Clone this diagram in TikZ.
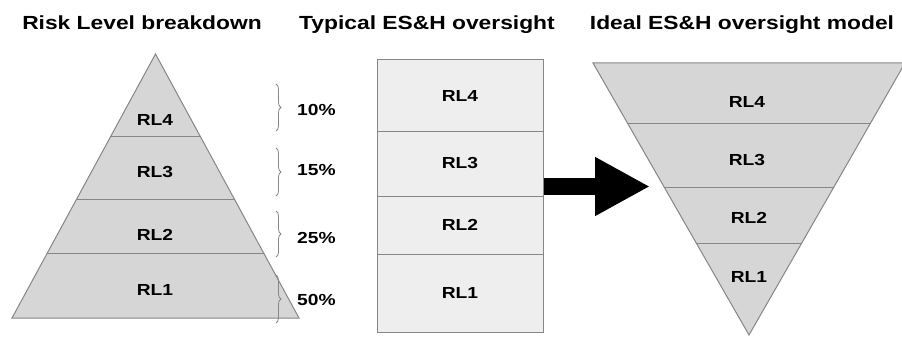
\documentclass[tikz,border=0pt]{standalone}
\usepackage{fontspec}
\newfontfamily\diagfont[FakeStretch=1.2]{Liberation Sans}
\usepackage{tikz}
\usetikzlibrary{arrows.meta,decorations.pathreplacing,calc}
\definecolor{pyrgray}{HTML}{D6D6D6}
\definecolor{boxgray}{HTML}{EEEEEE}
\definecolor{edgegray}{HTML}{868686}

\begin{document}
\begin{tikzpicture}[x=1pt,y=-1pt,
  title/.style={font=\diagfont\bfseries\fontsize{19}{22}\selectfont,anchor=base,inner sep=0pt},
  level/.style={font=\diagfont\bfseries\fontsize{16}{19}\selectfont,inner sep=1pt},
  share/.style={level,anchor=west},
  rowbox/.style={level,draw=edgegray,fill=boxgray,line width=1pt,minimum width=166pt},
  band/.style={edgegray,line width=1pt},
  pbrace/.style={draw=edgegray,line width=0.8pt,decorate,decoration={brace,amplitude=5pt}},
  bigarrow/.style={line width=17pt,-{Triangle[length=55pt,width=55pt]}}]
  \useasboundingbox (0,0) rectangle (902,337);

  % titles
  \node[title] (tleft) at (142,30) {Risk Level breakdown};
  \node[title] (tmid) at (427,30) {Typical ES\&H oversight};
  \node[title] (tright) at (742,30) {Ideal ES\&H oversight model};

  % risk level pyramid
  \coordinate (pa) at (155.5,54);
  \coordinate (pl) at (12,318);
  \coordinate (pr) at (299,318);
  \filldraw[fill=pyrgray,draw=edgegray,line width=1pt] (pa) -- (pr) -- (pl) -- cycle;
  \draw[band] ($(pa)!0.314!(pl)$) -- ($(pa)!0.314!(pr)$);
  \draw[band] ($(pa)!0.553!(pl)$) -- ($(pa)!0.553!(pr)$);
  \draw[band] ($(pa)!0.754!(pl)$) -- ($(pa)!0.754!(pr)$);
  \node[level] (p4) at (155,120) {RL4};
  \node[level] (p3) at (155,172) {RL3};
  \node[level] (p2) at (155,235) {RL2};
  \node[level] (p1) at (155,290) {RL1};

  % shares
  \draw[pbrace] (276,84) -- (276,131);
  \draw[pbrace] (276,148) -- (276,196);
  \draw[pbrace] (276,211) -- (276,257);
  \draw[pbrace] (276,275) -- (276,323);
  \node[share] (s4) at (296,110) {10\%};
  \node[share] (s3) at (296,170) {15\%};
  \node[share] (s2) at (296,238) {25\%};
  \node[share] (s1) at (296,300) {50\%};

  % typical oversight
  \node[rowbox,minimum height=71pt] (ty4) at (460,95.5) {RL4};
  \node[rowbox,minimum height=65pt] (ty3) at (460,163.5) {RL3};
  \node[rowbox,minimum height=58pt] (ty2) at (460,225) {RL2};
  \node[rowbox,minimum height=78pt] (ty1) at (460,293) {RL1};

  % arrow
  \coordinate (tip) at (650,186.5);
  \draw[bigarrow] (ty3.east |- tip) -- (tip);

  % ideal oversight model
  \coordinate (ia) at (749,335);
  \coordinate (il) at (593,63);
  \coordinate (ir) at (905,63);
  \filldraw[fill=pyrgray,draw=edgegray,line width=1pt] (il) -- (ir) -- (ia) -- cycle;
  \draw[band] ($(il)!0.2206!(ia)$) -- ($(ir)!0.2206!(ia)$);
  \draw[band] ($(il)!0.4559!(ia)$) -- ($(ir)!0.4559!(ia)$);
  \draw[band] ($(il)!0.6618!(ia)$) -- ($(ir)!0.6618!(ia)$);
  \node[level] (i4) at (747,102) {RL4};
  \node[level] (i3) at (747,160) {RL3};
  \node[level] (i2) at (749,218) {RL2};
  \node[level] (i1) at (749,277) {RL1};
\end{tikzpicture}
\end{document}
